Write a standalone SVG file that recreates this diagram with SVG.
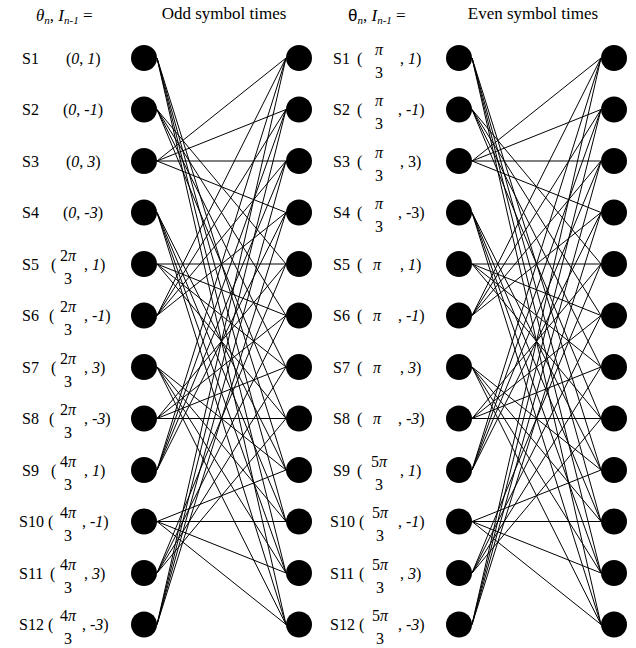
<svg xmlns="http://www.w3.org/2000/svg" width="636" height="648" viewBox="0 0 636 648" font-family="'Liberation Serif', 'Times New Roman', serif">
<style>
text{font-family:"Liberation Serif","Times New Roman",serif;font-size:16px;fill:#000}
.h{font-size:17px}
.i{font-style:italic}
.sub{font-size:11px;font-style:italic}
.c line{stroke:#000;stroke-width:1}
.n circle{fill:#000}
.m{text-anchor:middle}
</style>
<rect width="636" height="648" fill="#fff"/>
<g id="headers">
<text x="36" y="21" class="h"><tspan class="i">θ</tspan><tspan class="sub" dy="3">n</tspan><tspan dy="-3">, </tspan><tspan class="i">I</tspan><tspan class="sub" dy="3">n-1</tspan><tspan dy="-3"> =</tspan></text>
<text x="224" y="19" class="m h">Odd symbol times</text>
<text x="348" y="21" class="h"><tspan style="font-family:'Liberation Sans',sans-serif">θ</tspan><tspan class="sub" dy="3">n</tspan><tspan dy="-3">, </tspan><tspan class="i">I</tspan><tspan class="sub" dy="3">n-1</tspan><tspan dy="-3"> =</tspan></text>
<text x="533" y="19" class="m h">Even symbol times</text>
</g>
<g id="labels-odd">
<text x="22" y="64">S1</text><text x="66" y="64">(<tspan class="i">0</tspan>, <tspan class="i">1</tspan>)</text>
<text x="22" y="115">S2</text><text x="63" y="115">(<tspan class="i">0</tspan>, <tspan class="i">-1</tspan>)</text>
<text x="22" y="167">S3</text><text x="66" y="167">(<tspan class="i">0</tspan>, <tspan class="i">3</tspan>)</text>
<text x="22" y="218">S4</text><text x="63" y="218">(<tspan class="i">0</tspan>, <tspan class="i">-3</tspan>)</text>
<text x="22" y="270">S5</text><text x="51" y="270">(</text><text x="68" y="261" class="m">2<tspan class="i">π</tspan></text><text x="68" y="284" class="m">3</text><text x="84" y="270">, <tspan class="i">1</tspan>)</text>
<text x="22" y="321">S6</text><text x="49" y="321">(</text><text x="68" y="312" class="m">2<tspan class="i">π</tspan></text><text x="68" y="335" class="m">3</text><text x="84" y="321">, <tspan class="i">-1</tspan>)</text>
<text x="22" y="373">S7</text><text x="51" y="373">(</text><text x="68" y="364" class="m">2<tspan class="i">π</tspan></text><text x="68" y="387" class="m">3</text><text x="84" y="373">, <tspan class="i">3</tspan>)</text>
<text x="22" y="424">S8</text><text x="49" y="424">(</text><text x="68" y="415" class="m">2<tspan class="i">π</tspan></text><text x="68" y="438" class="m">3</text><text x="84" y="424">, <tspan class="i">-3</tspan>)</text>
<text x="22" y="476">S9</text><text x="51" y="476">(</text><text x="68" y="467" class="m">4<tspan class="i">π</tspan></text><text x="68" y="490" class="m">3</text><text x="84" y="476">, <tspan class="i">1</tspan>)</text>
<text x="19" y="527">S10</text><text x="48" y="527">(</text><text x="68" y="518" class="m">4<tspan class="i">π</tspan></text><text x="68" y="541" class="m">3</text><text x="82" y="527">, <tspan class="i">-1</tspan>)</text>
<text x="19" y="579">S11</text><text x="50" y="579">(</text><text x="68" y="570" class="m">4<tspan class="i">π</tspan></text><text x="68" y="593" class="m">3</text><text x="84" y="579">, <tspan class="i">3</tspan>)</text>
<text x="19" y="630">S12</text><text x="48" y="630">(</text><text x="68" y="621" class="m">4<tspan class="i">π</tspan></text><text x="68" y="644" class="m">3</text><text x="82" y="630">, <tspan class="i">-3</tspan>)</text>
</g>
<g id="labels-even">
<text x="333" y="64">S1</text><text x="357" y="64">(</text><text x="379" y="55" class="m"><tspan class="i">π</tspan></text><text x="379" y="78" class="m">3</text><text x="400" y="64">, <tspan class="i">1</tspan>)</text>
<text x="333" y="115">S2</text><text x="357" y="115">(</text><text x="379" y="106" class="m"><tspan class="i">π</tspan></text><text x="379" y="129" class="m">3</text><text x="398" y="115">, <tspan class="i">-1</tspan>)</text>
<text x="333" y="167">S3</text><text x="357" y="167">(</text><text x="379" y="158" class="m"><tspan class="i">π</tspan></text><text x="379" y="181" class="m">3</text><text x="400" y="167">, 3)</text>
<text x="333" y="218">S4</text><text x="357" y="218">(</text><text x="379" y="209" class="m"><tspan class="i">π</tspan></text><text x="379" y="232" class="m">3</text><text x="398" y="218">, -3)</text>
<text x="333" y="270">S5</text><text x="357" y="270">(</text><text x="377" y="270" class="m"><tspan class="i">π</tspan></text><text x="400" y="270">, <tspan class="i">1</tspan>)</text>
<text x="333" y="321">S6</text><text x="357" y="321">(</text><text x="377" y="321" class="m"><tspan class="i">π</tspan></text><text x="398" y="321">, <tspan class="i">-1</tspan>)</text>
<text x="333" y="373">S7</text><text x="357" y="373">(</text><text x="377" y="373" class="m"><tspan class="i">π</tspan></text><text x="400" y="373">, <tspan class="i">3</tspan>)</text>
<text x="333" y="424">S8</text><text x="357" y="424">(</text><text x="377" y="424" class="m"><tspan class="i">π</tspan></text><text x="398" y="424">, <tspan class="i">-3</tspan>)</text>
<text x="333" y="476">S9</text><text x="357" y="476">(</text><text x="379" y="467" class="m">5<tspan class="i">π</tspan></text><text x="379" y="490" class="m">3</text><text x="400" y="476">, <tspan class="i">1</tspan>)</text>
<text x="330" y="527">S10</text><text x="359" y="527">(</text><text x="380" y="518" class="m">5<tspan class="i">π</tspan></text><text x="380" y="541" class="m">3</text><text x="398" y="527">, <tspan class="i">-1</tspan>)</text>
<text x="330" y="579">S11</text><text x="359" y="579">(</text><text x="380" y="570" class="m">5<tspan class="i">π</tspan></text><text x="380" y="593" class="m">3</text><text x="400" y="579">, <tspan class="i">3</tspan>)</text>
<text x="330" y="630">S12</text><text x="359" y="630">(</text><text x="380" y="621" class="m">5<tspan class="i">π</tspan></text><text x="380" y="644" class="m">3</text><text x="398" y="630">, <tspan class="i">-3</tspan>)</text>
</g>
<g id="connectors" class="c">
<g id="odd-edges">
<line x1="157" y1="58" x2="286" y2="470"/><line x1="157" y1="58" x2="286" y2="521.5"/><line x1="157" y1="58" x2="286" y2="573"/><line x1="157" y1="58" x2="286" y2="624.5"/>
<line x1="157" y1="109.5" x2="286" y2="264"/><line x1="157" y1="109.5" x2="286" y2="315.5"/><line x1="157" y1="109.5" x2="286" y2="367"/><line x1="157" y1="109.5" x2="286" y2="418.5"/>
<line x1="157" y1="161" x2="286" y2="58"/><line x1="157" y1="161" x2="286" y2="109.5"/><line x1="157" y1="161" x2="286" y2="161"/><line x1="157" y1="161" x2="286" y2="212.5"/>
<line x1="157" y1="212.5" x2="286" y2="470"/><line x1="157" y1="212.5" x2="286" y2="521.5"/><line x1="157" y1="212.5" x2="286" y2="573"/><line x1="157" y1="212.5" x2="286" y2="624.5"/>
<line x1="157" y1="264" x2="286" y2="264"/><line x1="157" y1="264" x2="286" y2="315.5"/><line x1="157" y1="264" x2="286" y2="367"/><line x1="157" y1="264" x2="286" y2="418.5"/>
<line x1="157" y1="315.5" x2="286" y2="58"/><line x1="157" y1="315.5" x2="286" y2="109.5"/><line x1="157" y1="315.5" x2="286" y2="161"/><line x1="157" y1="315.5" x2="286" y2="212.5"/>
<line x1="157" y1="367" x2="286" y2="470"/><line x1="157" y1="367" x2="286" y2="521.5"/><line x1="157" y1="367" x2="286" y2="573"/><line x1="157" y1="367" x2="286" y2="624.5"/>
<line x1="157" y1="418.5" x2="286" y2="264"/><line x1="157" y1="418.5" x2="286" y2="315.5"/><line x1="157" y1="418.5" x2="286" y2="367"/><line x1="157" y1="418.5" x2="286" y2="418.5"/>
<line x1="157" y1="470" x2="286" y2="58"/><line x1="157" y1="470" x2="286" y2="109.5"/><line x1="157" y1="470" x2="286" y2="161"/><line x1="157" y1="470" x2="286" y2="212.5"/>
<line x1="157" y1="521.5" x2="286" y2="470"/><line x1="157" y1="521.5" x2="286" y2="521.5"/><line x1="157" y1="521.5" x2="286" y2="573"/><line x1="157" y1="521.5" x2="286" y2="624.5"/>
<line x1="157" y1="573" x2="286" y2="264"/><line x1="157" y1="573" x2="286" y2="315.5"/><line x1="157" y1="573" x2="286" y2="367"/><line x1="157" y1="573" x2="286" y2="418.5"/>
<line x1="157" y1="624.5" x2="286" y2="58"/><line x1="157" y1="624.5" x2="286" y2="109.5"/><line x1="157" y1="624.5" x2="286" y2="161"/><line x1="157" y1="624.5" x2="286" y2="212.5"/>
</g>
<use href="#odd-edges" x="315"/>
</g>
<g class="n">
<g id="o1"><circle cx="144" cy="58" r="13"/></g>
<g id="o2"><circle cx="144" cy="109.5" r="13"/></g>
<g id="o3"><circle cx="144" cy="161" r="13"/></g>
<g id="o4"><circle cx="144" cy="212.5" r="13"/></g>
<g id="o5"><circle cx="144" cy="264" r="13"/></g>
<g id="o6"><circle cx="144" cy="315.5" r="13"/></g>
<g id="o7"><circle cx="144" cy="367" r="13"/></g>
<g id="o8"><circle cx="144" cy="418.5" r="13"/></g>
<g id="o9"><circle cx="144" cy="470" r="13"/></g>
<g id="o10"><circle cx="144" cy="521.5" r="13"/></g>
<g id="o11"><circle cx="144" cy="573" r="13"/></g>
<g id="o12"><circle cx="144" cy="624.5" r="13"/></g>
<g id="e1"><circle cx="299" cy="58" r="13"/></g>
<g id="e2"><circle cx="299" cy="109.5" r="13"/></g>
<g id="e3"><circle cx="299" cy="161" r="13"/></g>
<g id="e4"><circle cx="299" cy="212.5" r="13"/></g>
<g id="e5"><circle cx="299" cy="264" r="13"/></g>
<g id="e6"><circle cx="299" cy="315.5" r="13"/></g>
<g id="e7"><circle cx="299" cy="367" r="13"/></g>
<g id="e8"><circle cx="299" cy="418.5" r="13"/></g>
<g id="e9"><circle cx="299" cy="470" r="13"/></g>
<g id="e10"><circle cx="299" cy="521.5" r="13"/></g>
<g id="e11"><circle cx="299" cy="573" r="13"/></g>
<g id="e12"><circle cx="299" cy="624.5" r="13"/></g>
<g id="f1"><circle cx="459" cy="58" r="13"/></g>
<g id="f2"><circle cx="459" cy="109.5" r="13"/></g>
<g id="f3"><circle cx="459" cy="161" r="13"/></g>
<g id="f4"><circle cx="459" cy="212.5" r="13"/></g>
<g id="f5"><circle cx="459" cy="264" r="13"/></g>
<g id="f6"><circle cx="459" cy="315.5" r="13"/></g>
<g id="f7"><circle cx="459" cy="367" r="13"/></g>
<g id="f8"><circle cx="459" cy="418.5" r="13"/></g>
<g id="f9"><circle cx="459" cy="470" r="13"/></g>
<g id="f10"><circle cx="459" cy="521.5" r="13"/></g>
<g id="f11"><circle cx="459" cy="573" r="13"/></g>
<g id="f12"><circle cx="459" cy="624.5" r="13"/></g>
<g id="g1"><circle cx="614" cy="58" r="13"/></g>
<g id="g2"><circle cx="614" cy="109.5" r="13"/></g>
<g id="g3"><circle cx="614" cy="161" r="13"/></g>
<g id="g4"><circle cx="614" cy="212.5" r="13"/></g>
<g id="g5"><circle cx="614" cy="264" r="13"/></g>
<g id="g6"><circle cx="614" cy="315.5" r="13"/></g>
<g id="g7"><circle cx="614" cy="367" r="13"/></g>
<g id="g8"><circle cx="614" cy="418.5" r="13"/></g>
<g id="g9"><circle cx="614" cy="470" r="13"/></g>
<g id="g10"><circle cx="614" cy="521.5" r="13"/></g>
<g id="g11"><circle cx="614" cy="573" r="13"/></g>
<g id="g12"><circle cx="614" cy="624.5" r="13"/></g>
</g>
</svg>
